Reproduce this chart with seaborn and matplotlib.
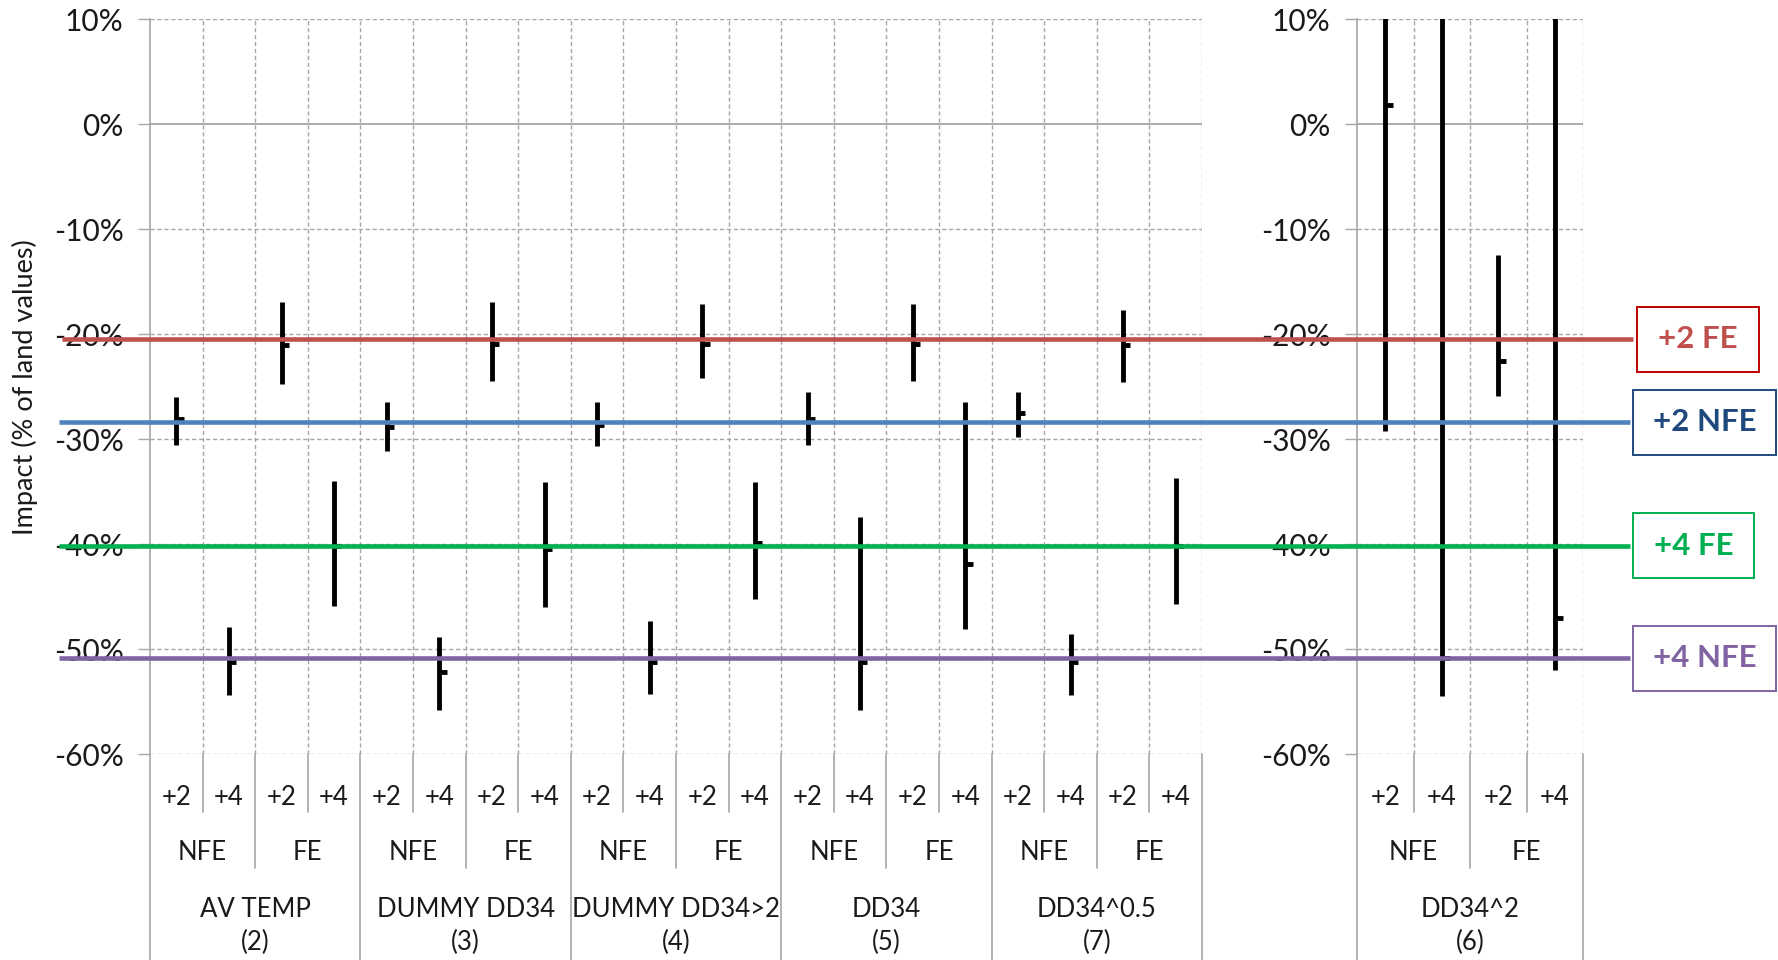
import numpy as np
import matplotlib
matplotlib.use("Agg")
import matplotlib.pyplot as plt
import matplotlib.transforms as mtransforms
from matplotlib.patches import Rectangle
import seaborn as sns

# --- data (impact in % of land values) ---
model_names = ["AV TEMP", "DUMMY DD34", "DUMMY DD34>2", "DD34", "DD34^0.5"]
model_nums = ["(2)", "(3)", "(4)", "(5)", "(7)"]
spec_labels = ["NFE", "FE"]
scen_labels = ["+2", "+4"]

# order inside each model: NFE +2, NFE +4, FE +2, FE +4
left_high = [-26.0, -47.9, -16.9, -34.0, -26.5, -48.9, -16.9, -34.1,
             -26.5, -47.35, -17.1, -34.1, -25.5, -37.4, -17.1, -26.5,
             -25.5, -48.6, -17.65, -33.7]
left_low = [-30.6, -54.4, -24.7, -45.9, -31.1, -55.8, -24.5, -46.0,
            -30.7, -54.3, -24.2, -45.2, -30.55, -55.8, -24.5, -48.05,
            -29.8, -54.4, -24.55, -45.7]
left_est = [-28.1, -51.2, -21.05, -40.2, -28.8, -52.2, -20.9, -40.5,
            -28.65, -51.2, -20.95, -39.9, -28.1, -51.2, -20.95, -41.9,
            -27.5, -51.25, -21.05, -40.2]

right_name = "DD34^2"
right_num = "(6)"
right_high = [25.0, 25.0, -12.5, 25.0]
right_low = [-29.2, -54.5, -25.9, -52.0]
right_est = [1.8, -50.9, -22.6, -47.05]

ref_labels = ["+2 FE", "+2 NFE", "+4 FE", "+4 NFE"]
ref_values = [-20.5, -28.4, -40.15, -50.9]
ref_line_colors = ["#C0504D", "#4F81BD", "#00B050", "#8064A2"]
ref_text_colors = ["#C0504D", "#1F497D", "#00B050", "#8064A2"]
ref_edge_colors = ["#C00000", "#1F497D", "#00B050", "#8064A2"]

# --- style ---
sns.set_style("white")
plt.rcParams['font.family'] = ['Lato', 'DejaVu Sans']
FS_TICK = 21.5
FS_CAT = 18.5
TXT = "#1a1a1a"
GRID = "#A6A6A6"

W, H = 1778, 960
fig = plt.figure(figsize=(W / 100, H / 100), dpi=100)
ax_bottom = 1 - 754 / H
ax_height = (754 - 19.3) / H
axL = fig.add_axes([150 / W, ax_bottom, (1202 - 150) / W, ax_height])
axR = fig.add_axes([1357 / W, ax_bottom, (1583 - 1357) / W, ax_height])


def setup(ax, n, names, nums, high, low, est):
    ax.set_xlim(-0.5, n - 0.5)
    ax.set_ylim(-60, 10)
    yt = list(range(-60, 11, 10))
    ax.set_yticks(yt)
    ax.set_yticklabels([f"{v}%" for v in yt], fontsize=FS_TICK, color=TXT)
    ax.set_xticks([])
    ax.tick_params(axis="y", length=9, width=1, color=GRID, pad=10, left=True)
    for s in ["top", "right", "bottom"]:
        ax.spines[s].set_visible(False)
    ax.spines["left"].set_color(GRID)
    ax.spines["left"].set_linewidth(1.2)
    for v in yt:
        if v == 0:
            ax.axhline(v, color=GRID, lw=1.3, zorder=1)
        else:
            ax.axhline(v, color=GRID, lw=1.0, ls=(0, (3, 2)), zorder=1)
    for b in np.arange(0.5, n, 1.0):
        ax.axvline(b, color=GRID, lw=1.0, ls=(0, (3, 2)), zorder=1)

    xs = np.arange(n)
    ax.vlines(xs, low, high, color="black", lw=3.5, zorder=3, capstyle="butt")
    ax.hlines(est, xs - 0.02, xs + 0.14, color="black", lw=3.5, zorder=3)

    # hierarchical category axis below the plot area
    tr = mtransforms.blended_transform_factory(ax.transData, ax.transAxes)
    for i in range(n):
        ax.text(i, -0.059, scen_labels[i % 2], transform=tr, ha="center",
                va="center", fontsize=FS_CAT, color=TXT)
    for g in range(n // 2):
        ax.text(2 * g + 0.5, -0.134, spec_labels[g % 2], transform=tr,
                ha="center", va="center", fontsize=FS_CAT, color=TXT)
    for m in range(n // 4):
        ax.text(4 * m + 1.5, -0.211, names[m], transform=tr, ha="center",
                va="center", fontsize=FS_CAT, color=TXT)
        ax.text(4 * m + 1.5, -0.257, nums[m], transform=tr, ha="center",
                va="center", fontsize=FS_CAT, color=TXT)
    for k in range(n + 1):
        b = k - 0.5
        if k % 4 == 0:
            yend = -0.32
        elif k % 2 == 0:
            yend = -0.155
        else:
            yend = -0.079
        ax.plot([b, b], [0, yend], transform=tr, color=GRID, lw=1.2,
                clip_on=False, zorder=1)


setup(axL, 20, model_names, model_nums, left_high, left_low, left_est)
setup(axR, 4, [right_name], [right_num], right_high, right_low, right_est)

fig.text(25 / W, ax_bottom + ax_height / 2, "Impact (% of land values)",
         rotation=90, ha="center", va="center", fontsize=19.5, color=TXT)

# --- reference lines and labelled boxes across the whole figure ---
ov = fig.add_axes([0, 0, 1, 1], zorder=10)
ov.axis("off")
ov.patch.set_alpha(0)
trf = mtransforms.blended_transform_factory(fig.transFigure, axL.transData)
line_x0 = [62, 59, 59, 59]
line_x1 = [1633, 1630, 1630, 1630]
box_x0 = [1637, 1633, 1633, 1633]
box_x1 = [1759, 1776, 1754, 1776]
box_h = 6.2
for i, lab in enumerate(ref_labels):
    v = ref_values[i]
    ov.plot([line_x0[i] / W, line_x1[i] / W], [v, v], transform=trf,
            color=ref_line_colors[i], lw=3.3, clip_on=False,
            solid_capstyle="butt")
    ov.add_patch(Rectangle((box_x0[i] / W, v - box_h / 2),
                           (box_x1[i] - box_x0[i]) / W, box_h, transform=trf,
                           fill=False, ec=ref_edge_colors[i], lw=1.4,
                           clip_on=False))
    ov.text((box_x0[i] + box_x1[i]) / 2 / W, v, lab, transform=trf,
            ha="center", va="center", fontsize=22.5, fontweight="bold",
            color=ref_text_colors[i])

fig.savefig("out.png", dpi=100, facecolor="white")
